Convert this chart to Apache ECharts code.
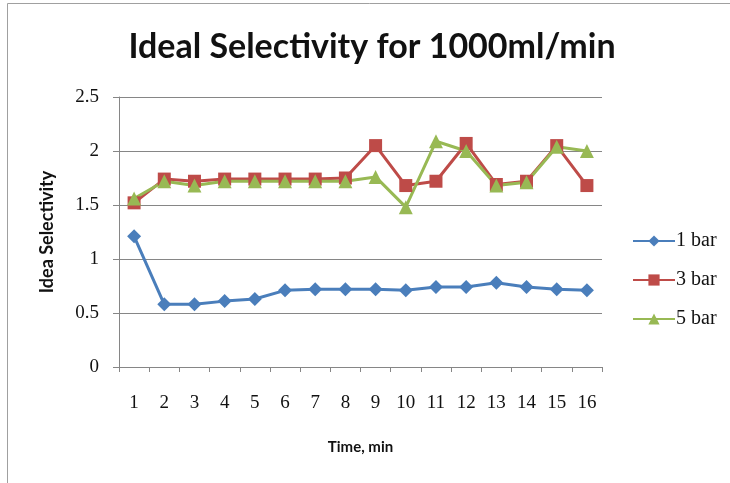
<!DOCTYPE html>
<html>
<head>
<meta charset="utf-8">
<script src="https://cdn.jsdelivr.net/npm/echarts@6/dist/echarts.min.js"></script>
<style>
  html, body { margin: 0; padding: 0; background: #fff; }
  #chart { width: 730px; height: 483px; }
</style>
</head>
<body>
<div id="chart"></div>
<script>
// Time points (minutes) on the category axis
const timeLabels = ['1','2','3','4','5','6','7','8','9','10','11','12','13','14','15','16'];

// Ideal selectivity per pressure level
const bar1 = [1.21, 0.58, 0.58, 0.61, 0.63, 0.71, 0.72, 0.72, 0.72, 0.71, 0.74, 0.74, 0.78, 0.74, 0.72, 0.71];
const bar3 = [1.52, 1.74, 1.72, 1.74, 1.74, 1.74, 1.74, 1.75, 2.05, 1.68, 1.72, 2.07, 1.69, 1.72, 2.05, 1.68];
const bar5 = [1.56, 1.72, 1.68, 1.72, 1.72, 1.72, 1.72, 1.72, 1.76, 1.48, 2.09, 2.00, 1.68, 1.71, 2.04, 2.00];

const seriesNames = ['1 bar', '3 bar', '5 bar'];
const yTicks = [0, 0.5, 1, 1.5, 2, 2.5];

const chart = echarts.init(document.getElementById('chart'), null, { renderer: 'canvas' });

const serifFont = '"Liberation Serif", "DejaVu Serif", serif';
const sansFont = 'Lato, "Open Sans", "Liberation Sans", sans-serif';

function lineSeries(name, data, color, symbol, size) {
  return {
    name: name,
    type: 'line',
    data: data,
    symbol: symbol,
    symbolSize: size,
    lineStyle: { color: color, width: 3 },
    itemStyle: { color: color },
    emphasis: { disabled: true },
    animation: false
  };
}

chart.setOption({
  backgroundColor: '#ffffff',
  animation: false,
  graphic: [{
    type: 'rect',
    shape: { x: 7.5, y: 3.5, width: 740, height: 500 },
    style: { fill: 'none', stroke: '#a0a0a0', lineWidth: 1 },
    silent: true
  }, {
    type: 'text',
    x: 372,
    y: 47,
    style: {
      text: 'Ideal Selectivity for 1000ml/min',
      textAlign: 'center',
      textVerticalAlign: 'middle',
      font: 'bold 34px ' + sansFont,
      fill: '#111'
    },
    silent: true
  }],
  legend: {
    orient: 'vertical',
    left: 632,
    top: 231,
    padding: 0,
    itemWidth: 42,
    itemHeight: 14,
    itemGap: 19,
    textStyle: { fontFamily: serifFont, fontSize: 20, color: '#111', padding: [0, 0, 0, -4] },
    data: seriesNames
  },
  grid: { left: 119, top: 97, right: 128, bottom: 116 },
  xAxis: {
    type: 'category',
    data: timeLabels,
    boundaryGap: true,
    name: 'Time, min',
    nameLocation: 'middle',
    nameGap: 73,
    nameTextStyle: { fontFamily: sansFont, fontSize: 15, fontWeight: 'bold', color: '#111' },
    axisLine: { lineStyle: { color: '#868686', width: 1 } },
    axisTick: { show: true, length: 5, lineStyle: { color: '#868686' } },
    axisLabel: { fontFamily: serifFont, fontSize: 19, color: '#111', margin: 27 }
  },
  yAxis: {
    type: 'value',
    min: yTicks[0],
    max: yTicks[yTicks.length - 1],
    interval: 0.5,
    name: 'Idea Selectivity',
    nameLocation: 'middle',
    nameGap: 63,
    nameTextStyle: { fontFamily: sansFont, fontSize: 18, fontWeight: 'bold', color: '#111' },
    axisLine: { show: true, lineStyle: { color: '#868686', width: 1 } },
    axisTick: { show: true, length: 6, lineStyle: { color: '#868686' } },
    splitLine: { show: true, lineStyle: { color: '#868686', width: 1 } },
    axisLabel: { fontFamily: serifFont, fontSize: 19, color: '#111', margin: 20 }
  },
  series: [
    lineSeries(seriesNames[0], bar1, '#4A7EBB', 'diamond', 14),
    lineSeries(seriesNames[1], bar3, '#BE4B48', 'rect', 13),
    lineSeries(seriesNames[2], bar5, '#98B954', 'triangle', 14)
  ]
});
</script>
</body>
</html>
